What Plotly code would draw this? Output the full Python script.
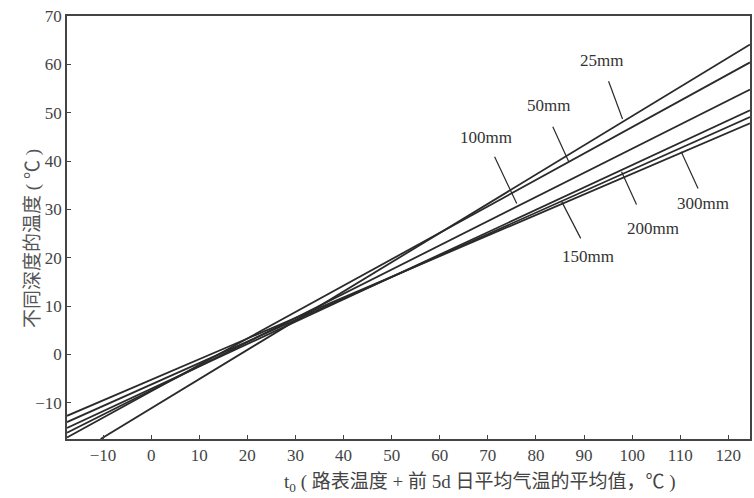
import plotly.graph_objects as go

# depth series: each line defined by two endpoints
depths = ["25mm", "50mm", "100mm", "150mm", "200mm", "300mm"]
x_start = [-10.5, -17.5, -17.5, -17.5, -17.5, -17.5]
y_start = [-17.5, -17.2, -16.2, -15.2, -14.0, -12.7]
x_end = [124.5, 124.5, 124.5, 124.5, 124.5, 124.5]
y_end = [64.1, 60.4, 54.8, 50.5, 49.1, 47.8]

# label text anchor and leader line ends (data units)
label_x = [93.6, 82.6, 69.6, 90.9, 104.4, 114.8]
label_y = [60.7, 51.4, 44.8, 20.3, 26.1, 31.2]
lead_x0 = [95.1, 83.5, 71.4, 89.3, 100.9, 113.7]
lead_y0 = [56.5, 47.1, 40.9, 24.0, 31.0, 34.3]
lead_x1 = [98.0, 86.8, 76.0, 85.3, 97.8, 110.2]
lead_y1 = [48.7, 39.9, 31.2, 31.7, 37.8, 41.9]

x_ticks = list(range(-10, 121, 10))
y_ticks = list(range(-10, 71, 10))

x_title = "t<sub>0</sub> ( 路表温度 + 前 5d 日平均气温的平均值，℃ )"
y_title = "不同深度的温度 ( ℃ )"

FONT = "Liberation Serif, Noto Sans CJK SC, serif"
INK = "#2a2a2a"

fig = go.Figure()
for i, d in enumerate(depths):
    fig.add_trace(go.Scatter(x=[x_start[i], x_end[i]], y=[y_start[i], y_end[i]],
                             mode="lines", line=dict(color=INK, width=1.8),
                             name=d, showlegend=False, hoverinfo="skip"))
    fig.add_trace(go.Scatter(x=[lead_x0[i], lead_x1[i]], y=[lead_y0[i], lead_y1[i]],
                             mode="lines", line=dict(color=INK, width=1.2),
                             showlegend=False, hoverinfo="skip"))
    fig.add_annotation(x=label_x[i], y=label_y[i], text=d, showarrow=False,
                       font=dict(family=FONT, size=17, color="#333"))

fig.add_annotation(xref="paper", yref="paper", x=0.605, y=-0.105, text=x_title,
                   showarrow=False, xanchor="center", yanchor="middle",
                   font=dict(family=FONT, size=19, color="#444"))
fig.add_annotation(xref="paper", yref="paper", x=-0.05, y=0.475, text=y_title,
                   showarrow=False, xanchor="center", yanchor="middle", textangle=-90,
                   font=dict(family=FONT, size=19, color="#555"))

fig.update_xaxes(range=[-17.5, 124.5], tickvals=x_ticks, ticks="inside", ticklen=4,
                 showgrid=False, zeroline=False, showline=True, linecolor="#444",
                 linewidth=1.5, mirror=True,
                 tickfont=dict(family=FONT, size=17, color="#444"))
fig.update_yaxes(range=[-17.5, 70], tickvals=y_ticks, ticks="inside", ticklen=4,
                 showgrid=False, zeroline=False, showline=True, linecolor="#444",
                 linewidth=1.5, mirror=True,
                 tickfont=dict(family=FONT, size=17, color="#444"))
fig.update_layout(width=754, height=498, margin=dict(l=67, r=2, t=16, b=59),
                  plot_bgcolor="white", paper_bgcolor="white")
fig.write_html("out.html")
